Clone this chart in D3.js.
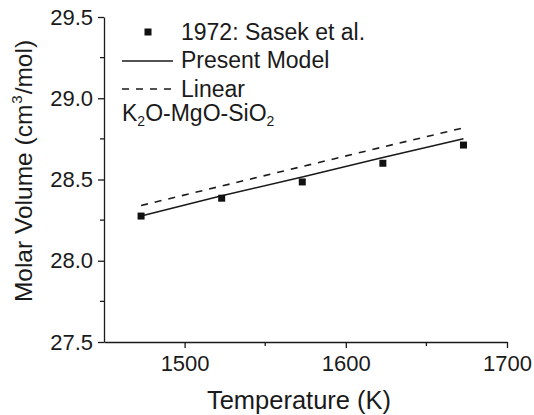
<!DOCTYPE html>
<html>
<head>
<meta charset="utf-8">
<script src="https://cdn.jsdelivr.net/npm/d3@7"></script>
<style>
  body { margin: 0; background: #fff; }
  svg { display: block; font-family: "Liberation Sans", Arial, sans-serif; }
</style>
</head>
<body>
<div id="chart"></div>
<script>
// Data
const temps = [1473, 1523, 1573, 1623, 1673];
const sasek = [28.275, 28.385, 28.485, 28.600, 28.712];
const model = [28.275, 28.400, 28.515, 28.635, 28.751];
const linear = [28.340, 28.460, 28.580, 28.700, 28.818];
const xTicks = [1500, 1600, 1700];
const xMinor = [1550, 1650];
const yTicks = [27.5, 28.0, 28.5, 29.0, 29.5];
const yMinor = [27.75, 28.25, 28.75, 29.25];

const svgWidth = 534, svgHeight = 415;
const ink = "#1a1a1a";

const svg = d3.select("#chart")
    .append("svg")
    .attr("width", svgWidth)
    .attr("height", svgHeight);

const x = d3.scaleLinear().domain([1450, 1700]).range([104, 507]);
const y = d3.scaleLinear().domain([27.5, 29.5]).range([342, 17]);

// Axes
const xAxis = svg.append("g")
    .attr("transform", `translate(0, ${y(27.5)})`)
    .call(d3.axisBottom(x).tickValues(xTicks).tickSizeInner(6).tickSizeOuter(0).tickPadding(7).tickFormat(d3.format("d")));
xAxis.append("g").selectAll("line")
    .data(xMinor).enter().append("line")
    .attr("x1", d => x(d)).attr("x2", d => x(d))
    .attr("y1", 0).attr("y2", 4);

const yAxis = svg.append("g")
    .attr("transform", `translate(${x(1450)}, 0)`)
    .call(d3.axisLeft(y).tickValues(yTicks).tickSizeInner(6).tickSizeOuter(0).tickPadding(5).tickFormat(d3.format(".1f")));
yAxis.append("g").selectAll("line")
    .data(yMinor).enter().append("line")
    .attr("x1", 0).attr("x2", -4)
    .attr("y1", d => y(d)).attr("y2", d => y(d));

svg.selectAll(".domain, .tick line, g line")
    .attr("stroke", ink)
    .attr("stroke-width", 1.3);
svg.selectAll(".tick text")
    .attr("fill", ink)
    .style("font-size", "22px");

// Lines
const lineGen = d3.line()
    .x((d, i) => x(temps[i]))
    .y(d => y(d));

svg.append("path")
    .datum(model)
    .attr("d", lineGen)
    .attr("fill", "none")
    .attr("stroke", ink)
    .attr("stroke-width", 1.6);

svg.append("path")
    .datum(linear)
    .attr("d", lineGen)
    .attr("fill", "none")
    .attr("stroke", ink)
    .attr("stroke-width", 1.6)
    .attr("stroke-dasharray", "7,7");

// Data points
svg.append("g")
    .selectAll("rect")
    .data(sasek)
    .enter().append("rect")
    .attr("x", (d, i) => x(temps[i]) - 3.5)
    .attr("y", d => y(d) - 3.5)
    .attr("width", 7)
    .attr("height", 7)
    .attr("fill", "#111");

// Axis titles
svg.append("text")
    .attr("x", 299)
    .attr("y", 409)
    .attr("text-anchor", "middle")
    .attr("fill", ink)
    .style("font-size", "25.5px")
    .text("Temperature (K)");

const yTitle = svg.append("text")
    .attr("transform", "translate(32, 171) rotate(-90)")
    .attr("text-anchor", "middle")
    .attr("fill", ink)
    .style("font-size", "24.5px");
yTitle.append("tspan").text("Molar Volume (cm");
yTitle.append("tspan").attr("dx", 1).attr("dy", -10).style("font-size", "15px").text("3");
yTitle.append("tspan").attr("dx", 1).attr("dy", 10).text("/mol)");

// Legend
const legend = svg.append("g")
    .attr("fill", ink)
    .style("font-size", "23px");

legend.append("rect")
    .attr("x", 144.5).attr("y", 28.5)
    .attr("width", 7).attr("height", 7)
    .attr("fill", "#111");
legend.append("text").attr("x", 181).attr("y", 40).text("1972: Sasek et al.");

legend.append("line")
    .attr("x1", 122).attr("x2", 173).attr("y1", 61).attr("y2", 61)
    .attr("stroke", ink).attr("stroke-width", 1.6);
legend.append("text").attr("x", 181).attr("y", 68).text("Present Model");

legend.append("line")
    .attr("x1", 122).attr("x2", 173).attr("y1", 89).attr("y2", 89)
    .attr("stroke", ink).attr("stroke-width", 1.6)
    .attr("stroke-dasharray", "7,7");
legend.append("text").attr("x", 181).attr("y", 97).text("Linear");

const label = legend.append("text").attr("x", 122).attr("y", 121);
label.append("tspan").text("K");
label.append("tspan").attr("dy", 5).style("font-size", "14px").text("2");
label.append("tspan").attr("dy", -5).text("O-MgO-SiO");
label.append("tspan").attr("dy", 5).style("font-size", "14px").text("2");
</script>
</body>
</html>
